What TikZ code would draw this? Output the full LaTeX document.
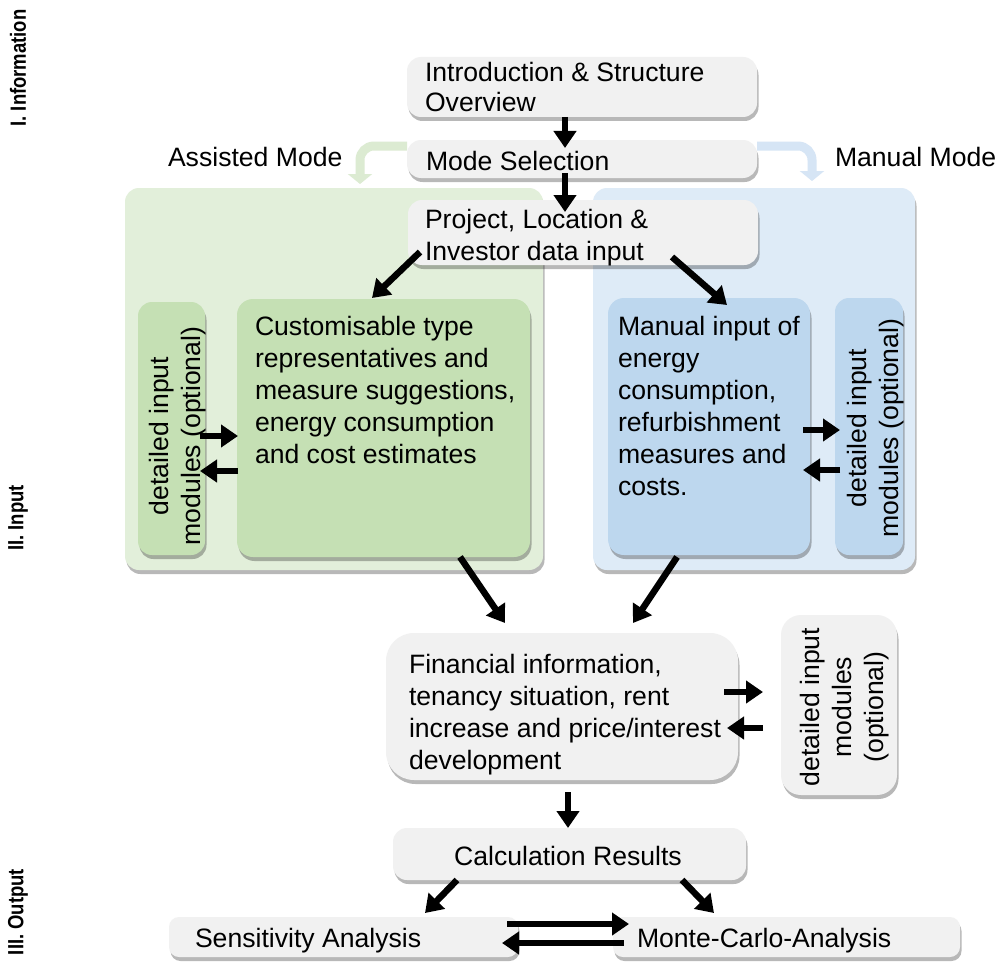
\documentclass[tikz,border=0pt]{standalone}
\usepackage{fontspec}
\setmainfont{Liberation Sans}
\usetikzlibrary{arrows.meta,shadows,calc}
\definecolor{boxgray}{HTML}{F1F1F1}
\definecolor{gout}{HTML}{E2EFDA}
\definecolor{gin}{HTML}{C5E0B4}
\definecolor{bout}{HTML}{DEEBF7}
\definecolor{bin}{HTML}{BDD7EE}
\definecolor{garrc}{HTML}{DCEBD2}
\definecolor{barrc}{HTML}{D6E5F5}
\newcommand\myfs{\fontsize{26.6}{32}\selectfont}
\newcommand\myfsi{\fontsize{26.6}{30}\selectfont}
\begin{document}
\begin{tikzpicture}[x=1pt,y=-1pt,
  shd/.style={drop shadow={shadow xshift=1.5pt,shadow yshift=-4pt,fill=black,opacity=.28}},
  box/.style={anchor=north west,inner sep=0pt,outer sep=0pt,rounded corners=14pt,shd},
  graybox/.style={box,fill=boxgray},
  txt/.style={inner sep=0pt,outer sep=0pt,font=\myfs,text=black},
  lbl/.style={inner sep=0pt,font=\fontsize{22}{24}\selectfont\bfseries,rotate=90},
  arr/.style={line width=6.5pt,-{Triangle[length=17pt,width=22pt]}},
  carr/.style={line width=9pt,rounded corners=14pt,-{Triangle[length=10pt,width=24pt]}}
]
\useasboundingbox[fill=white] (0,0) rectangle (998,963);

% section labels
\node[lbl] (l1) at (18,68) {\scalebox{.84}[1]{I. Information}};
\node[lbl] (l2) at (18,518) {\scalebox{.84}[1]{II. Input}};
\node[lbl] (l3) at (18,912) {\scalebox{.84}[1]{III. Output}};

% big mode boxes
\node[box,fill=gout,minimum width=418pt,minimum height=382pt] (gbig) at (125,188) {};
\node[box,fill=bout,minimum width=322pt,minimum height=382pt] (bbig) at (593,188) {};

% inner boxes
\node[box,fill=gin,minimum width=67pt,minimum height=253pt] (gdet) at (138,302) {};
\node[box,fill=gin,minimum width=293pt,minimum height=258pt,rounded corners=16pt] (cust) at (237,299) {};
\node[box,fill=bin,minimum width=202pt,minimum height=257pt,rounded corners=16pt] (man) at (608,298) {};
\node[box,fill=bin,minimum width=68pt,minimum height=257pt] (bdet) at (835,298) {};

% curved mode arrows (start under the mode box)
\coordinate (gs) at (407,146);
\coordinate (gt) at (360,184);
\coordinate (bs) at (757,146);
\coordinate (bt) at (812,181);
\draw[carr,garrc] (gs) -- (gs -| gt) -- (gt);
\draw[carr,barrc] (bs) -- (bs -| bt) -- (bt);

% gray boxes
\node[graybox,minimum width=350pt,minimum height=38pt] (mode) at (407,140) {};
\node[graybox,minimum width=350pt,minimum height=60pt] (intro) at (407,57) {};
\node[graybox,minimum width=350pt,minimum height=65pt] (proj) at (408,200) {};
\node[graybox,minimum width=352pt,minimum height=147pt,rounded corners=28pt] (fin) at (386,633) {};
\node[graybox,minimum width=116pt,minimum height=180pt,rounded corners=20pt] (fdet) at (781,615) {};
\node[graybox,minimum width=353pt,minimum height=52pt] (calc) at (393,828) {};
\node[graybox,minimum width=349pt,minimum height=40pt,rounded corners=10pt] (sens) at (169,917) {};
\node[graybox,minimum width=347pt,minimum height=40pt,rounded corners=10pt] (monte) at (613,917) {};

% texts
\node[txt,font=\myfsi,anchor=north west,align=left] (intro-t) at (425,61) {\strut Introduction \& Structure\\Overview};
\node[txt,anchor=base west] (mode-t) at (426,170) {Mode Selection};
\node[txt,anchor=base west] (assist) at (168,166) {Assisted Mode};
\node[txt,anchor=base west] (manual) at (835,166) {Manual Mode};
\node[txt,anchor=north west,align=left] (proj-t) at (425,205.6) {\strut Project, Location \&\\Investor data input};
\node[txt,anchor=north west,align=left] (cust-t) at (255,312.6) {\strut Customisable type\\representatives and\\measure suggestions,\\energy consumption\\and cost estimates};
\node[txt,anchor=north west,align=left] (man-t) at (618,312.6) {\strut Manual input of\\energy\\consumption,\\refurbishment\\measures and\\costs.};
\node[txt,rotate=90,align=center] (gdet-t) at (178,436) {detailed input\\modules (optional)};
\node[txt,rotate=90,align=center] (bdet-t) at (876,428) {detailed input\\modules (optional)};
\node[txt,anchor=north west,align=left] (fin-t) at (409,650.6) {\strut Financial information,\\tenancy situation, rent\\increase and price/interest\\development};
\node[txt,rotate=90,align=center] (fdet-t) at (845,707) {detailed input\\modules\\(optional)};
\node[txt,anchor=base] (calc-t) at (568,865) {Calculation Results};
\node[txt,anchor=base west] (sens-t) at (195,947) {Sensitivity Analysis};
\node[txt,anchor=base west] (monte-t) at (637,947) {Monte-Carlo-Analysis};

% arrow end coordinates
\coordinate (cx) at (565,0);
\coordinate (p1) at (420,252); \coordinate (p2) at (372,298);
\coordinate (p3) at (672,257); \coordinate (p4) at (727,305);
\coordinate (c1) at (460,557); \coordinate (c2) at (505,623);
\coordinate (m1) at (677,557); \coordinate (m2) at (633,623);
\coordinate (f1) at (568,792); \coordinate (f2) at (568,828);
\coordinate (r1) at (457,880); \coordinate (r2) at (425,913);
\coordinate (r3) at (682,880); \coordinate (r4) at (714,913);

\draw[arr] (intro.south -| cx) -- ([yshift=-8pt]mode.north -| cx);
\draw[arr] ([yshift=5pt]mode.south -| cx) -- ([yshift=-12pt]proj.north -| cx);
\draw[arr] (p1) -- (p2);
\draw[arr] (p3) -- (p4);
\draw[arr] (200,436) -- (238,436);
\draw[arr] (238,471) -- (200,471);
\draw[arr] (803,430) -- (840,430);
\draw[arr] (840,470) -- (803,470);
\draw[arr] (c1) -- (c2);
\draw[arr] (m1) -- (m2);
\draw[arr] (724,692) -- (763,692);
\draw[arr] (763,728) -- (727,728);
\draw[arr] (f1) -- (f2);
\draw[arr] (r1) -- (r2);
\draw[arr] (r3) -- (r4);
\draw[arr] (507,924) -- (629,924);
\draw[arr] (624,943) -- (502,943);
\end{tikzpicture}
\end{document}
